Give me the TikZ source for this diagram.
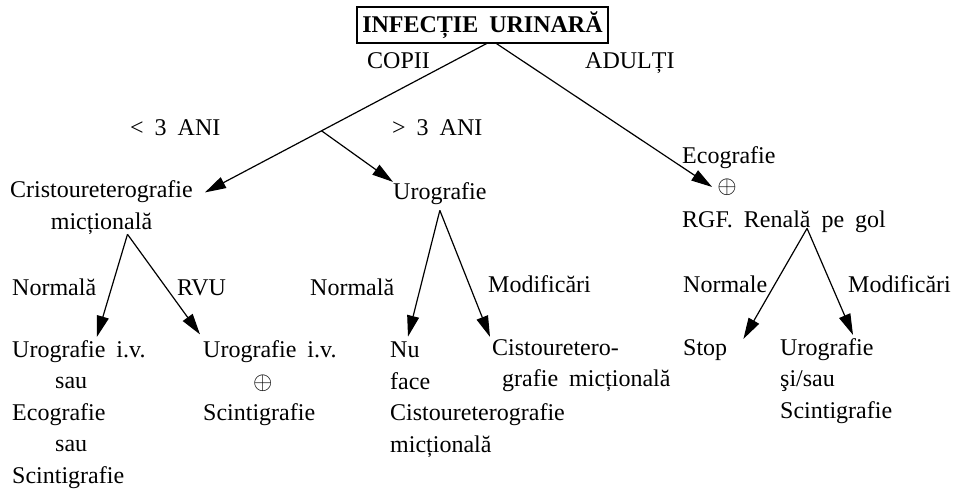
\documentclass[tikz,border=0pt]{standalone}
\usepackage{fontspec}
\setmainfont{Liberation Serif}
\usetikzlibrary{arrows.meta}
\newcommand\diagfont{\fontsize{24}{31.5}\selectfont\spaceskip=11pt plus 2pt\relax}
\begin{document}
\begin{tikzpicture}[x=1pt,y=-1pt,
  lbl/.style={inner sep=0pt,anchor=base west,font=\diagfont},
  blk/.style={lbl,align=left},
  arr/.style={line width=1.2pt,-{Triangle[length=21pt,width=12pt]}}]
  \useasboundingbox (0,0) rectangle (958,488);
  \node[draw,line width=1.2pt,font=\diagfont\bfseries,minimum width=251pt,
    minimum height=36pt,inner sep=0pt] (title) at (482.5,25) {INFECȚIE URINARĂ};
  \node[lbl] (copii) at (367,68) {COPII};
  \node[lbl] (adulti) at (585,68) {ADULȚI};
  \node[lbl] (lt3) at (130,135) {< 3 ANI};
  \node[lbl] (gt3) at (392,135) {> 3 ANI};
  \node[lbl,align=center] (cisto) at (10,229) {Cristoureterografie\\micțională};
  \node[lbl] (urog) at (393,199) {Urografie};
  \node[lbl] (eco) at (682,163) {Ecografie};
  \node[inner sep=0pt,font=\diagfont] (plus) at (727,187) {$\oplus$};
  \node[lbl] (rgf) at (682,227) {RGF. Renală pe gol};
  \node[lbl] (norm1) at (12,295) {Normală};
  \node[lbl] (rvu) at (177,295) {RVU};
  \node[lbl] (norm2) at (310,295) {Normală};
  \node[lbl] (modif1) at (488,292) {Modificări};
  \node[lbl] (norm3) at (683,292) {Normale};
  \node[lbl] (modif2) at (848,292) {Modificări};
  \node[blk] (leafa) at (12,483) {Urografie i.v.\\\hspace*{43pt}sau\\Ecografie\\\hspace*{43pt}sau\\Scintigrafie};
  \node[blk] (leafb) at (203,420.5) {Urografie i.v.\\\hspace*{50pt}$\oplus$\\Scintigrafie};
  \node[blk] (leafc) at (390,452) {Nu\\face\\Cistoureterografie\\micțională};
  \node[blk] (leafd) at (492,386.5) {Cistouretero-\\\hspace*{10pt}grafie micțională};
  \node[lbl] (stop) at (683,355) {Stop};
  \node[blk] (leafe) at (780,418) {Urografie\\şi/sau\\Scintigrafie};
  \draw[arr] ([xshift=4pt]title.south) -- coordinate[pos=0.586] (split)
    ([shift={(12pt,-12pt)}]cisto.north east);
  \draw[arr] (split) -- (urog.north west);
  \draw[arr] ([xshift=14pt]title.south) -- ([xshift=-5pt]plus.west);
  \draw[arr] ([xshift=26pt]cisto.south) -- ([shift={(18pt,3pt)}]leafa.north);
  \draw[arr] ([xshift=26pt]cisto.south) -- ([shift={(-3pt,6pt)}]leafb.north west);
  \draw[arr] ([yshift=-6pt]urog.south) -- ([shift={(18pt,5pt)}]leafc.north west);
  \draw[arr] ([yshift=-6pt]urog.south) -- ([shift={(-2pt,2pt)}]leafd.north west);
  \draw[arr] ([shift={(23pt,4pt)}]rgf.south) -- ([xshift=16pt]stop.north east);
  \draw[arr] ([shift={(23pt,4pt)}]rgf.south) -- ([shift={(73pt,3pt)}]leafe.north west);
\end{tikzpicture}
\end{document}
